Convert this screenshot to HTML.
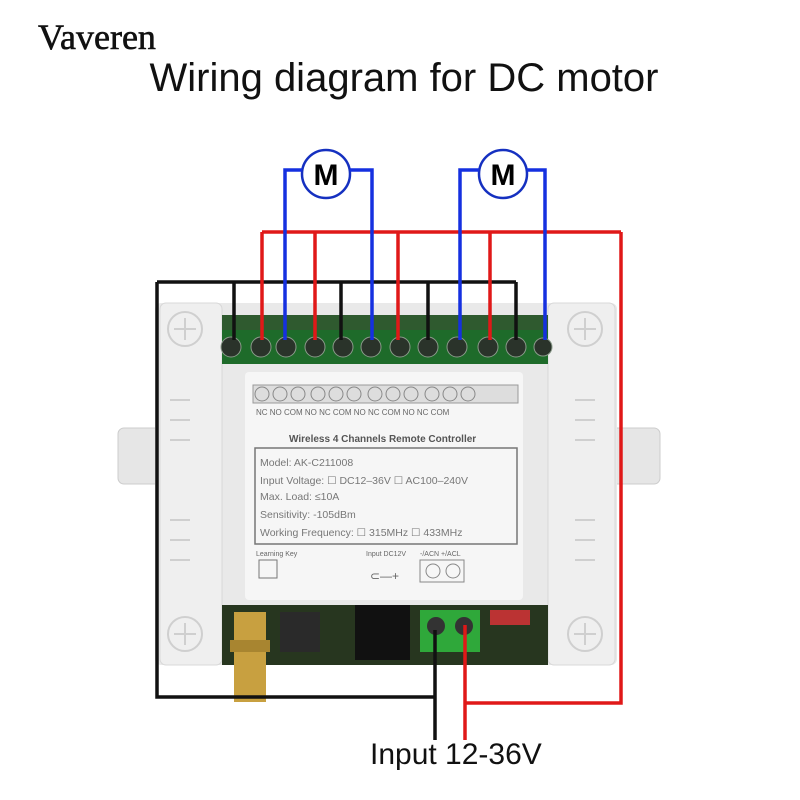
<!DOCTYPE html>
<html><head><style>
body{margin:0;width:800px;height:800px;background:#fff;position:relative;overflow:hidden;font-family:"Liberation Sans",sans-serif}
.a{position:absolute}
</style></head><body>
<div class="a" style="left:38px;top:16px;font:36px 'Liberation Serif',serif;color:#111;-webkit-text-stroke:0.6px #111">Vaveren</div>
<div class="a" style="left:0;width:808px;top:56px;text-align:center;font-size:40px;color:#111">Wiring diagram for DC motor</div>
<div class="a" style="left:370px;top:738px;font-size:30px;color:#111">Input 12-36V</div>
<svg class="a" style="left:0;top:0" width="800" height="800">
<rect x="118" y="428" width="50" height="56" rx="6" fill="#e6e6e6" stroke="#ccc"/>
<rect x="605" y="428" width="55" height="56" rx="6" fill="#e6e6e6" stroke="#ccc"/>
<rect x="155" y="303" width="462" height="362" rx="6" fill="#e9e9e9"/>
<rect x="160" y="303" width="62" height="362" rx="6" fill="#efefef" stroke="#d8d8d8"/>
<rect x="548" y="303" width="67" height="362" rx="6" fill="#efefef" stroke="#d8d8d8"/>
<g fill="none" stroke="#cfcfcf" stroke-width="2">
<circle cx="185" cy="329" r="17"/><circle cx="185" cy="634" r="17"/><circle cx="585" cy="329" r="17"/><circle cx="585" cy="634" r="17"/>
<path d="M185 318v22M174 329h22M185 623v22M174 634h22M585 318v22M574 329h22M585 623v22M574 634h22"/>
<path d="M170 400h20M170 420h20M170 440h20M170 520h20M170 540h20M170 560h20M575 400h20M575 420h20M575 440h20M575 520h20M575 540h20M575 560h20"/>
</g>
<rect x="222" y="315" width="326" height="18" fill="#2f5a2f"/>
<rect x="222" y="330" width="326" height="34" fill="#1e6b2a"/>
<g fill="#2a332a" stroke="#8a9a8a">
<circle cx="231" cy="347" r="10"/><circle cx="261" cy="347" r="10"/><circle cx="286" cy="347" r="10"/><circle cx="315" cy="347" r="10"/><circle cx="343" cy="347" r="10"/><circle cx="371" cy="347" r="10"/><circle cx="400" cy="347" r="10"/><circle cx="428" cy="347" r="10"/><circle cx="457" cy="347" r="10"/><circle cx="488" cy="347" r="10"/><circle cx="516" cy="347" r="10"/><circle cx="543" cy="347" r="9"/>
</g>
<rect x="245" y="372" width="278" height="228" rx="4" fill="#f6f6f6"/>
<rect x="253" y="385" width="265" height="18" fill="#ddd" stroke="#999"/>
<g fill="none" stroke="#888"><circle cx="262" cy="394" r="7"/><circle cx="280" cy="394" r="7"/><circle cx="298" cy="394" r="7"/><circle cx="318" cy="394" r="7"/><circle cx="336" cy="394" r="7"/><circle cx="354" cy="394" r="7"/><circle cx="375" cy="394" r="7"/><circle cx="393" cy="394" r="7"/><circle cx="411" cy="394" r="7"/><circle cx="432" cy="394" r="7"/><circle cx="450" cy="394" r="7"/><circle cx="468" cy="394" r="7"/>
<rect x="255" y="448" width="262" height="96" stroke="#777" stroke-width="1.5"/>
<rect x="259" y="560" width="18" height="18" stroke="#777"/>
<rect x="420" y="560" width="44" height="22" stroke="#888"/><circle cx="433" cy="571" r="7"/><circle cx="453" cy="571" r="7"/>
</g>
<g font-family="Liberation Sans" fill="#666" font-size="8">
<text x="256" y="415">NC  NO  COM  NO  NC  COM  NO  NC  COM  NO  NC  COM</text>
<text x="256" y="556" font-size="7">Learning Key</text>
<text x="366" y="556" font-size="7">Input DC12V</text>
<text x="420" y="556" font-size="7">-/ACN  +/ACL</text>
<text x="370" y="580" font-size="12">⊂—+</text>
</g>
<text x="289" y="442" font-family="Liberation Sans" font-weight="bold" font-size="10" fill="#555">Wireless 4 Channels Remote Controller</text>
<g font-family="Liberation Sans" font-size="10.5" fill="#777">
<text x="260" y="466">Model:  AK-C211008</text>
<text x="260" y="484">Input Voltage:  ☐ DC12–36V   ☐ AC100–240V</text>
<text x="260" y="500">Max. Load:  ≤10A</text>
<text x="260" y="518">Sensitivity:  -105dBm</text>
<text x="260" y="536">Working Frequency:  ☐ 315MHz   ☐ 433MHz</text>
</g>
<rect x="222" y="605" width="326" height="60" fill="#27361f"/>
<rect x="355" y="605" width="55" height="55" fill="#111"/>
<rect x="280" y="612" width="40" height="40" fill="#2a2a2a"/>
<rect x="420" y="610" width="60" height="42" fill="#2fa83a"/>
<circle cx="436" cy="626" r="9" fill="#333"/><circle cx="464" cy="626" r="9" fill="#333"/>
<rect x="490" y="610" width="40" height="15" fill="#b33"/>
<rect x="234" y="612" width="32" height="90" fill="#c8a040"/>
<rect x="230" y="640" width="40" height="12" fill="#a88530"/>
<g fill="#fff" stroke="#1530c0" stroke-width="2.5"><circle cx="326" cy="174" r="24"/><circle cx="503" cy="174" r="24"/></g>
<g font-family="Liberation Sans" font-weight="bold" font-size="30" fill="#000" text-anchor="middle"><text x="326" y="185">M</text><text x="503" y="185">M</text></g>
<g fill="none" stroke-width="3.5">
<path stroke="#111" d="M157 282H516M234 282V340M341 282V340M428 282V340M516 282V340M157 282V697H435M435 630V740"/>
<path stroke="#e01818" d="M262 232H621M262 232V340M315 232V340M398 232V340M490 232V340M621 232V703H465M465 625V740"/>
<path stroke="#1530e0" d="M302 170H285V340M350 170H372V340M479 170H460V340M527 170H545V340"/>
</g>
</svg>
</body></html>
